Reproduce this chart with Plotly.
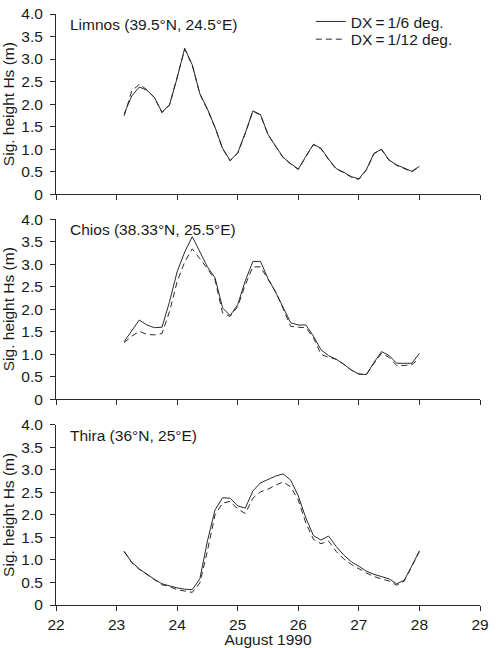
import plotly.graph_objects as go

# time axis: 3-hourly from 23.125 to 28.0 (August 1990)
days = [23 + 0.125 * (i + 1) for i in range(40)]

limnos_dx6 = [1.78, 2.18, 2.38, 2.31, 2.15, 1.82, 1.99, 2.58, 3.24, 2.87,
              2.23, 1.89, 1.49, 1.02, 0.75, 0.92, 1.36, 1.85, 1.77, 1.33,
              1.07, 0.82, 0.68, 0.56, 0.84, 1.11, 1.02, 0.78, 0.57, 0.49,
              0.39, 0.34, 0.55, 0.91, 1.00, 0.76, 0.65, 0.58, 0.51, 0.62]
limnos_dx12 = [1.74, 2.29, 2.44, 2.32, 2.14, 1.81, 1.98, 2.57, 3.22, 2.86,
               2.22, 1.88, 1.48, 1.01, 0.74, 0.91, 1.35, 1.84, 1.76, 1.32,
               1.06, 0.81, 0.67, 0.55, 0.83, 1.10, 1.01, 0.77, 0.56, 0.48,
               0.38, 0.33, 0.54, 0.90, 0.99, 0.75, 0.64, 0.57, 0.50, 0.61]

chios_dx6 = [1.28, 1.51, 1.76, 1.65, 1.59, 1.60, 2.17, 2.83, 3.27, 3.61,
             3.27, 2.94, 2.70, 2.03, 1.86, 2.10, 2.63, 3.06, 3.06, 2.68,
             2.38, 2.03, 1.70, 1.65, 1.65, 1.40, 1.10, 0.97, 0.89, 0.78,
             0.65, 0.56, 0.55, 0.82, 1.06, 0.97, 0.80, 0.80, 0.80, 1.02]
chios_dx12 = [1.26, 1.40, 1.51, 1.44, 1.43, 1.46, 1.95, 2.61, 3.05, 3.34,
              3.12, 2.90, 2.65, 1.92, 1.84, 2.06, 2.54, 2.94, 2.94, 2.65,
              2.39, 2.01, 1.62, 1.60, 1.59, 1.37, 1.00, 0.93, 0.89, 0.78,
              0.65, 0.56, 0.55, 0.80, 1.02, 0.93, 0.75, 0.75, 0.77, 0.91]

thira_dx6 = [1.19, 0.95, 0.80, 0.68, 0.57, 0.47, 0.42, 0.38, 0.35, 0.34,
             0.58, 1.42, 2.11, 2.38, 2.37, 2.20, 2.15, 2.53, 2.71, 2.78,
             2.86, 2.91, 2.77, 2.42, 1.93, 1.54, 1.44, 1.53, 1.30, 1.11,
             0.96, 0.86, 0.75, 0.68, 0.63, 0.58, 0.47, 0.55, 0.87, 1.20]
thira_dx12 = [1.19, 0.94, 0.79, 0.67, 0.56, 0.45, 0.41, 0.34, 0.31, 0.28,
              0.49, 1.20, 2.00, 2.26, 2.30, 2.13, 2.03, 2.37, 2.51, 2.57,
              2.66, 2.73, 2.62, 2.33, 1.82, 1.46, 1.36, 1.42, 1.19, 1.02,
              0.90, 0.80, 0.71, 0.63, 0.58, 0.53, 0.44, 0.53, 0.86, 1.19]

stations = ["Limnos (39.5°N, 24.5°E)", "Chios (38.33°N, 25.5°E)", "Thira (36°N, 25°E)"]
series_solid = [limnos_dx6, chios_dx6, thira_dx6]
series_dash = [limnos_dx12, chios_dx12, thira_dx12]
legend_names = ["DX\u2009=\u20091/6 deg.", "DX\u2009=\u20091/12 deg."]

y_tickvals = [0, 0.5, 1.0, 1.5, 2.0, 2.5, 3.0, 3.5, 4.0]
y_ticktext = ["0", "0.5", "1.0", "1.5", "2.0", "2.5", "3.0", "3.5", "4.0"]
x_tickvals = [22, 23, 24, 25, 26, 27, 28, 29]
x_ticktext = ["22", "23", "24", "25", "26", "27", "28", "29"]

FONT = "Liberation Sans, Arial, sans-serif"
FS = 15.5
INK = "#1a1a1a"
LINE = "#2a2a2a"

fig = go.Figure()
domains = [[0.695, 1.0], [0.348, 0.653], [0.0, 0.305]]

for i in range(3):
    xa = "x" if i == 0 else f"x{i+1}"
    ya = "y" if i == 0 else f"y{i+1}"
    fig.add_trace(go.Scatter(x=days, y=series_solid[i], mode="lines",
                             line=dict(color=LINE, width=1), name=legend_names[0],
                             showlegend=(i == 0), legend="legend", xaxis=xa, yaxis=ya))
    fig.add_trace(go.Scatter(x=days, y=series_dash[i], mode="lines",
                             line=dict(color=LINE, width=1, dash="6px,4px"), name=legend_names[1],
                             showlegend=(i == 0), legend="legend2", xaxis=xa, yaxis=ya))

leg_common = dict(xanchor="left", yanchor="middle", bgcolor="rgba(0,0,0,0)",
                  font=dict(family=FONT, size=FS, color=INK), itemwidth=30)
layout = dict(
    width=498, height=648,
    margin=dict(l=56, r=18, t=5, b=43),
    paper_bgcolor="white", plot_bgcolor="white",
    font=dict(family=FONT, size=FS, color=INK),
    legend=dict(x=0.601, y=(605 - 13) / 600, **leg_common),
    legend2=dict(x=0.601, y=(605 - 31) / 600, **leg_common),
    annotations=[],
)

for i in range(3):
    xkey = "xaxis" if i == 0 else f"xaxis{i+1}"
    ykey = "yaxis" if i == 0 else f"yaxis{i+1}"
    ya = "y" if i == 0 else f"y{i+1}"
    xa = "x" if i == 0 else f"x{i+1}"
    layout[xkey] = dict(
        range=[22, 29], domain=[0, 1], anchor=ya,
        tickvals=x_tickvals, ticktext=x_ticktext if i == 2 else [""] * len(x_tickvals),
        showticklabels=(i == 2),
        ticks="outside", ticklen=5, tickcolor=LINE, tickwidth=1,
        showline=True, linecolor=LINE, linewidth=1,
        showgrid=False, zeroline=False,
        tickfont=dict(size=FS, color=INK),
        title=dict(text="August 1990" if i == 2 else "", font=dict(size=FS, color=INK), standoff=1),
    )
    layout[ykey] = dict(
        range=[0, 4.0], domain=domains[i], anchor=xa,
        tickvals=y_tickvals, ticktext=y_ticktext,
        ticks="outside", ticklen=5, tickcolor=LINE, tickwidth=1,
        showline=True, linecolor=LINE, linewidth=1,
        showgrid=False, zeroline=False,
        ticklabelstandoff=4,
        tickfont=dict(size=FS, color=INK),
        title=dict(text="Sig. height Hs (m)", font=dict(size=FS, color=INK), standoff=3),
    )
    layout["annotations"].append(dict(
        text=stations[i], xref=f"{xa} domain", yref=f"{ya} domain",
        x=0.028, y=0.94, xanchor="left", yanchor="middle", showarrow=False,
        font=dict(size=FS, color=INK)))

fig.update_layout(**layout)
fig.write_html("out.html")
